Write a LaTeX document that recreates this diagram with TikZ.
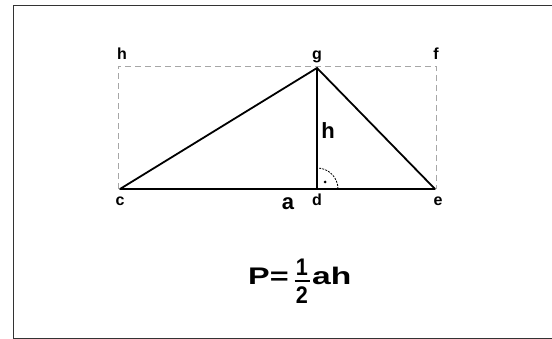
\documentclass[tikz,border=0pt]{standalone}
\usepackage{fontspec}
\setmainfont{Liberation Sans}
\begin{document}
\begin{tikzpicture}[x=1pt,y=-1pt,
  lbl/.style={font=\fontsize{16}{16}\selectfont\bfseries, inner sep=0pt, anchor=base},
  big/.style={font=\fontsize{22}{22}\selectfont\bfseries, inner sep=0pt, anchor=base},
  form/.style={font=\fontsize{24}{24}\selectfont\bfseries, inner sep=0pt},
  digit/.style={font=\fontsize{24}{24}\selectfont\bfseries, inner sep=0pt, anchor=base},
  side/.style={line width=1.8pt, black, line cap=round},
  guide/.style={black!35, line width=0.8pt, dash pattern=on 6pt off 4pt}]
\useasboundingbox (0,0) rectangle (552,339);
% frame
\coordinate (fr1) at (553,5.7);
\coordinate (fr2) at (13.5,5.7);
\coordinate (fr3) at (13.5,338.3);
\coordinate (fr4) at (553,338.3);
\draw[line width=1.5pt, black!80] (fr1) -- (fr2) -- (fr3) -- (fr4);
% points
\coordinate (c) at (120,189);
\coordinate (d) at (317,189);
\coordinate (e) at (435,189);
\coordinate (g) at (317,68);
\coordinate (cb) at (118,189);
\coordinate (hc) at (118,66);
\coordinate (fc) at (436,66);
\coordinate (eb) at (436,189);
% dashed rectangle
\draw[guide] (cb) -- (hc) -- (fc) -- (eb);
% triangle
\draw[side] (c) -- (g) -- (e);
\draw[line width=2.6pt] (c) -- (e);
\draw[line width=1.3pt] (g) -- (d);
% right angle
\coordinate (ra) at (338,189);
\draw[line width=0.8pt, dash pattern=on 2pt off 1.2pt] (ra) arc[start angle=0, end angle=-90, radius=21];
\fill (325,182) circle[radius=1.5pt];
% labels
\node[lbl] (lh) at (122,60) {h};
\node[lbl] (lg) at (317,60) {g};
\node[lbl] (lf) at (436,60) {f};
\node[lbl] (lc) at (120,206) {c};
\node[lbl] (ld) at (317,206) {d};
\node[lbl] (le) at (438,206) {e};
\node[big] (la) at (288,210) {a};
\node[big] (lht) at (328,139) {h};
% formula
\node[form, anchor=base west] (fP) at (248,285) {\scalebox{1.35}[1]{P=}};
\node[digit] (f1) at (302,276) {\scalebox{0.9}[1]{1}};
\node[digit] (f2) at (302,303.5) {\scalebox{0.9}[1]{2}};
\coordinate (bar1) at (294.5,281);
\coordinate (bar2) at (309.5,281);
\draw[line width=2pt] (bar1) -- (bar2);
\node[form, anchor=base west] (fah) at (312,285) {\scalebox{1.4}[1]{ah}};
\end{tikzpicture}
\end{document}
